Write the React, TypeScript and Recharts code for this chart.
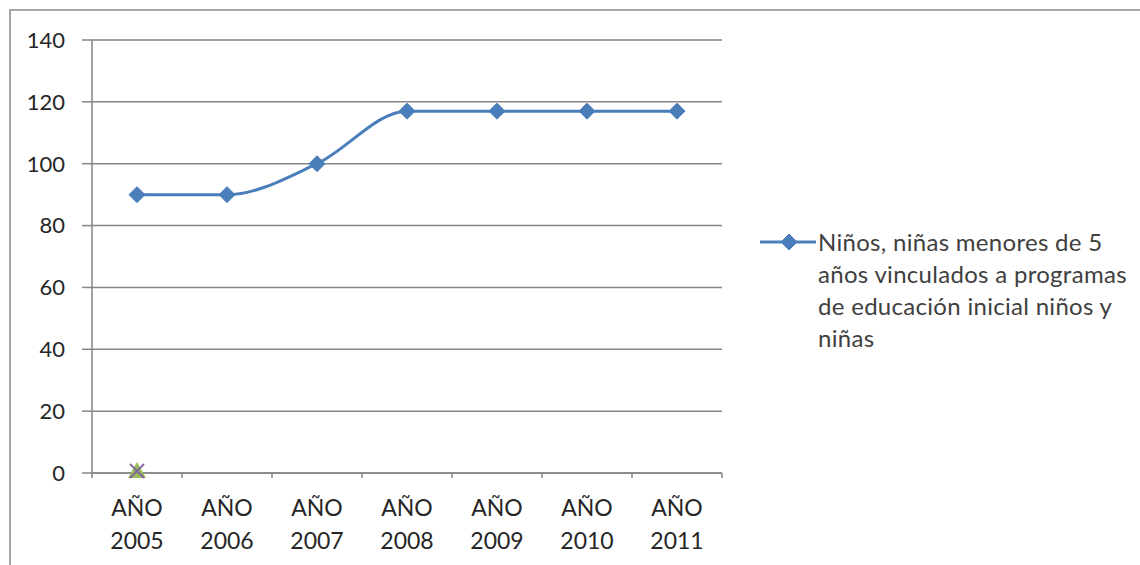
import React from "react";
import { LineChart, Line, XAxis, YAxis, CartesianGrid, Legend } from "recharts";

const YEARS = ["2005", "2006", "2007", "2008", "2009", "2010", "2011"];
const NINOS = [90, 90, 100, 117, 117, 117, 117];
const SERIE_2 = [0, null, null, null, null, null, null];
const SERIE_3 = [0, null, null, null, null, null, null];
const Y_TICKS = [0, 20, 40, 60, 80, 100, 120, 140];
const LEGEND_TEXT =
  "Niños, niñas menores de 5 años vinculados a programas de educación inicial niños y niñas";

const data = YEARS.map((year, i) => ({
  year,
  ninos: NINOS[i],
  s2: SERIE_2[i],
  s3: SERIE_3[i],
}));

const BLUE = "#4a7ebb";
const AXIS = "#868686";
const FONT = "Lato, 'Open Sans', sans-serif";

const Diamond = (props) => {
  const { cx, cy } = props;
  if (cx == null || cy == null) return null;
  const r = 8;
  return (
    <path
      d={`M${cx},${cy - r} L${cx + r},${cy} L${cx},${cy + r} L${cx - r},${cy} Z`}
      fill={BLUE}
      stroke={BLUE}
      strokeWidth={1}
    />
  );
};

const Triangle = (props) => {
  const { cx, cy, value } = props;
  if (cx == null || cy == null || value == null) return null;
  const r = 9;
  return (
    <path
      d={`M${cx},${cy - r - 2} L${cx + r},${cy + 5} L${cx - r},${cy + 5} Z`}
      fill="#9bbb59"
    />
  );
};

const Cross = (props) => {
  const { cx, cy, value } = props;
  if (cx == null || cy == null || value == null) return null;
  const r = 7;
  return (
    <g stroke="#8064a2" strokeWidth={1.8}>
      <line x1={cx - r} y1={cy - r - 2} x2={cx + r} y2={cy + r - 2} />
      <line x1={cx - r} y1={cy + r - 2} x2={cx + r} y2={cy - r - 2} />
    </g>
  );
};

// two-line category label plus Excel style tick marks between categories
const YearTick = (props) => {
  const { x, y, payload, width, visibleTicksCount, index } = props;
  const band = width / visibleTicksCount;
  return (
    <g>
      <line x1={x - band / 2} y1={y - 5} x2={x - band / 2} y2={y} stroke={AXIS} strokeWidth={1.5} />
      {index === visibleTicksCount - 1 && (
        <line x1={x + band / 2} y1={y - 5} x2={x + band / 2} y2={y} stroke={AXIS} strokeWidth={1.5} />
      )}
      <text textAnchor="middle" fill="#262626" fontSize={23} fontFamily={FONT}>
        <tspan x={x} y={y + 38}>AÑO</tspan>
        <tspan x={x} y={y + 71}>{payload.value}</tspan>
      </text>
    </g>
  );
};

const LegendBox = () => (
  <div
    style={{
      position: "absolute",
      left: 760,
      top: 226,
      display: "flex",
      fontFamily: FONT,
      fontSize: 24,
      letterSpacing: 0.3,
      lineHeight: "32px",
      color: "#404040",
    }}
  >
    <svg width={58} height={32} style={{ flex: "none" }}>
      <line x1={0} y1={16} x2={56} y2={16} stroke={BLUE} strokeWidth={3} />
      <Diamond cx={29} cy={16} />
    </svg>
    <div style={{ width: 318 }}>{LEGEND_TEXT}</div>
  </div>
);

export default function App() {
  return (
    <div
      style={{
        position: "absolute",
        left: 0,
        top: 0,
        width: 1140,
        height: 565,
        background: "#fff",
        overflow: "hidden",
      }}
    >
      <div
        style={{
          position: "absolute",
          left: 9,
          top: 9,
          width: 1200,
          height: 700,
          border: "2px solid #a6a6a6",
        }}
      />
      <LineChart
        width={1140}
        height={565}
        data={data}
        margin={{ top: 40, right: 418, bottom: 0, left: 10 }}
      >
        <CartesianGrid vertical={false} stroke={AXIS} strokeWidth={1.5} />
        <XAxis
          dataKey="year"
          scale="band"
          height={92}
          stroke={AXIS}
          strokeWidth={1.5}
          tickLine={false}
          tickSize={5}
          tickMargin={0}
          interval={0}
          tick={<YearTick />}
        />
        <YAxis
          width={82}
          domain={[0, 140]}
          ticks={Y_TICKS}
          interval={0}
          stroke={AXIS}
          strokeWidth={1.5}
          tickSize={10}
          tickMargin={17}
          tick={{ fill: "#262626", fontSize: 22, fontFamily: FONT }}
        />
        <Legend content={<LegendBox />} wrapperStyle={{ position: "absolute", left: 0, top: 0 }} />
        <Line
          type="monotone"
          dataKey="ninos"
          stroke={BLUE}
          strokeWidth={3}
          dot={<Diamond />}
          activeDot={false}
          isAnimationActive={false}
        />
        <Line
          dataKey="s2"
          stroke="#9bbb59"
          dot={<Triangle />}
          activeDot={false}
          legendType="none"
          isAnimationActive={false}
        />
        <Line
          dataKey="s3"
          stroke="#8064a2"
          dot={<Cross />}
          activeDot={false}
          legendType="none"
          isAnimationActive={false}
        />
      </LineChart>
    </div>
  );
}
